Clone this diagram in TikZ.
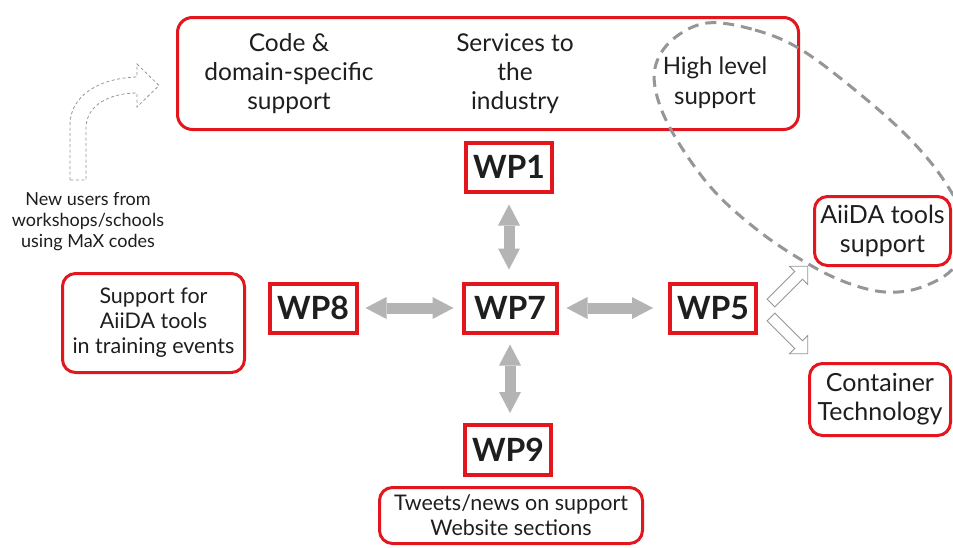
\documentclass[tikz,border=0pt]{standalone}
\usepackage{fontspec}
\setmainfont{Lato}
\usetikzlibrary{arrows.meta}
\definecolor{mred}{RGB}{226,22,28}
\definecolor{agrey}{RGB}{180,180,180}
\definecolor{dgrey}{RGB}{150,150,150}
\definecolor{txt}{RGB}{30,30,30}
\begin{document}
\begin{tikzpicture}[x=1pt,y=-1pt,
  wpbox/.style={draw=mred, line width=4pt, inner sep=0pt, minimum width=86pt, minimum height=49pt,
    text=txt, font=\fontsize{32}{36}\selectfont\bfseries},
  rbox/.style={draw=mred, line width=3pt, rounded corners=13pt, inner sep=0pt, align=center, text=txt},
  lbl/.style={align=center, inner sep=0pt, text=txt},
  bigarrow/.style={draw=agrey, line width=11pt,
    {Triangle[length=21pt,width=22pt,line width=0pt]}-{Triangle[length=21pt,width=22pt,line width=0pt]}},
  hollow/.style={draw=dgrey, fill=white, line width=0.9pt, line join=miter},
  dashedarrow/.style={draw=dgrey, line width=0.8pt, dash pattern=on 3pt off 2.5pt},
  groupline/.style={draw=dgrey, line width=3pt, dash pattern=on 11pt off 7pt}
]
\useasboundingbox (0,0) rectangle (953,547);
\fill[white] (0,0) rectangle (953,547);

% top box
\node[rbox, minimum width=621pt, minimum height=112pt, rounded corners=15pt] (top) at (488,73.5) {};
\node[lbl, font=\fontsize{24.5}{29}\selectfont] (code) at (289,74) {Code \&\\domain-specific\\support};
\node[lbl, font=\fontsize{24.5}{29}\selectfont] (serv) at (515,74) {Services to\\the\\industry};
\node[lbl, font=\fontsize{24}{30}\selectfont] (high) at (715,83) {High level\\support};

% WP boxes
\node[wpbox] (wp1) at (509,167) {WP1};
\node[wpbox, minimum width=93pt] (wp7) at (510,308) {WP7};
\node[wpbox, minimum width=87pt] (wp8) at (313,308) {WP8};
\node[wpbox] (wp5) at (713,308) {WP5};
\node[wpbox, minimum height=50pt] (wp9) at (508,450) {WP9};

% other boxes
\node[rbox, minimum width=182pt, minimum height=99pt, font=\fontsize{21.5}{25}\selectfont] (train) at (153.5,323) {Support for\\AiiDA tools\\in training events};
\node[rbox, minimum width=136pt, minimum height=69pt, font=\fontsize{25}{29}\selectfont] (aiida) at (882.5,231) {AiiDA tools\\support};
\node[rbox, minimum width=141pt, minimum height=72pt, font=\fontsize{25}{29}\selectfont] (cont) at (880,399.5) {Container\\Technology};
\node[rbox, minimum width=263pt, minimum height=56pt, font=\fontsize{21.5}{25}\selectfont] (tweet) at (511,515.5) {Tweets/news on support\\Website sections};

% new users text
\node[lbl, font=\fontsize{18}{21}\selectfont] (newu) at (88,222) {New users from\\workshops/schools\\using MaX codes};

% grey double arrows
\draw[bigarrow, shorten <=11pt, shorten >=12pt] (wp1.south) -- (wp1.south |- wp7.north);
\draw[bigarrow, shorten <=7pt, shorten >=8pt] (wp8.east) -- (wp7.west);
\draw[bigarrow, shorten <=8pt, shorten >=15pt] (wp7.east) -- (wp5.west);
\draw[bigarrow, shorten <=10pt, shorten >=10pt] (wp7.south) -- (wp7.south |- wp9.north);

% hollow arrows from WP5
\coordinate (hu) at (771,303);
\coordinate (hd) at (771,317);
\begin{scope}[shift={(hu)}, rotate=45]
  \draw[hollow] (0,-5.5) -- (39,-5.5) -- (39,-13) -- (52,0) -- (39,13) -- (39,5.5) -- (0,5.5) -- cycle;
\end{scope}
\begin{scope}[shift={(hd)}, rotate=-45]
  \draw[hollow] (0,-5.5) -- (39,-5.5) -- (39,-13) -- (52,0) -- (39,13) -- (39,5.5) -- (0,5.5) -- cycle;
\end{scope}

% dashed curved arrow
\draw[dashedarrow] (70,180) -- (70,125) .. controls (70,95) and (100,78) .. (137,77)
  -- (137,64) -- (159,85.5) -- (137,107) -- (137,93) .. controls (110,93) and (86,105) .. (86,128)
  -- (86,180) -- cycle;

% dashed group ellipse
\draw[groupline] plot[smooth cycle, tension=0.6] coordinates {
  (707,23) (755,30) (800,49) (855,90) (908,137) (945,182) (965,225) (955,266) (922,287)
  (885,292) (845,282) (805,262) (760,232) (715,192) (680,145) (659,103) (655,68) (672,40)};
\end{tikzpicture}
\end{document}
